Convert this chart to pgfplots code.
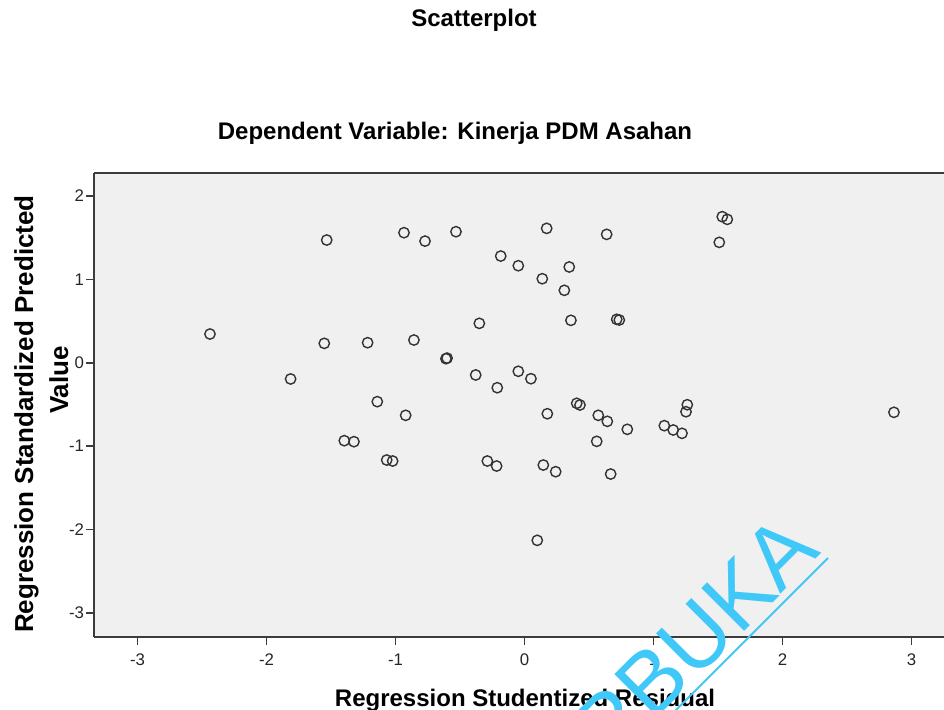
\documentclass[border=0pt]{standalone}
\usepackage{fontspec}
\setmainfont{Liberation Sans}
\usepackage{pgfplots}
\pgfplotsset{compat=1.18}

\definecolor{panel}{RGB}{240,240,240}
\definecolor{frame}{RGB}{60,60,60}
\definecolor{wmark}{RGB}{64,200,248}

% residual vs predicted
\pgfplotstableread{
res pred
-1.533 1.471
-0.934 1.559
-0.771 1.458
-2.438 0.344
-1.552 0.232
-1.216 0.240
-0.857 0.272
-1.813 -0.195
-1.141 -0.467
-0.531 1.571
0.172 1.611
0.637 1.539
1.533 1.751
1.572 1.719
1.510 1.443
-0.184 1.279
-0.048 1.163
0.347 1.148
0.138 1.007
0.309 0.868
-0.350 0.472
0.360 0.508
0.715 0.520
0.735 0.512
-0.609 0.048
-0.600 0.055
-0.378 -0.147
-0.048 -0.103
0.050 -0.192
-0.211 -0.300
0.405 -0.487
0.430 -0.507
0.177 -0.612
0.572 -0.631
0.642 -0.703
0.797 -0.799
0.560 -0.943
1.262 -0.504
1.252 -0.588
1.084 -0.755
1.153 -0.807
1.221 -0.847
-0.288 -1.179
-0.216 -1.239
0.146 -1.227
0.242 -1.307
0.668 -1.335
0.099 -2.130
-0.921 -0.631
-1.397 -0.935
-1.322 -0.947
-1.068 -1.167
-1.022 -1.179
2.864 -0.595
}\resid

\begin{document}
\begin{tikzpicture}
\useasboundingbox (0,0) rectangle (472pt,355pt);
\begin{axis}[
  at={(47pt,36.5pt)}, anchor=south west,
  scale only axis,
  width=425pt, height=232pt,
  xmin=-3.337, xmax=3.252,
  ymin=-3.289, ymax=2.275,
  xtick={-3,...,3}, ytick={-3,...,2},
  axis x line*=bottom, axis y line*=left,
  axis line style={frame, line width=1pt, -},
  axis background/.style={fill=panel},
  tick align=outside, major tick length=4pt,
  tick style={frame, line width=0.8pt},
  ticklabel style={font=\fontsize{8.4}{10}\selectfont, text=black!85},
  yticklabel style={inner xsep=0.8pt},
  xticklabel style={yshift=-1pt},
  /pgf/number format/assume math mode=true,
  clip=false,
]
\draw[frame, line width=1pt] (rel axis cs:0,1) -- (rel axis cs:1,1);
\addplot[only marks, mark=o, mark size=2.6pt,
  mark options={draw=black!80, line width=0.7pt}] table[x=res, y=pred] {\resid};
\end{axis}

\node[font=\bfseries\fontsize{12}{14}\selectfont] at (237pt,345pt) {Scatterplot};
\node[font=\bfseries\fontsize{12}{14}\selectfont] at (227.5pt,288.5pt) {Dependent Variable: Kinerja PDM Asahan};
\node[font=\bfseries\fontsize{12}{14}\selectfont, anchor=base] at (262.5pt,1.5pt) {Regression Studentized Residual};
\node[font=\bfseries\fontsize{13}{15}\selectfont, rotate=90, anchor=base] at (16.5pt,148pt) {Regression Standardized Predicted};
\node[font=\bfseries\fontsize{13}{15}\selectfont, rotate=90, anchor=base] at (34pt,165pt) {Value};

% watermark
\node[font=\fontsize{44}{44}\selectfont, text=wmark, rotate=45, anchor=base east, inner sep=0pt] at (411.3pt,78.6pt) {TERBUKA};
\draw[wmark, line width=0.9pt] (414pt,76pt) -- (330pt,-8pt);
\end{tikzpicture}
\end{document}
